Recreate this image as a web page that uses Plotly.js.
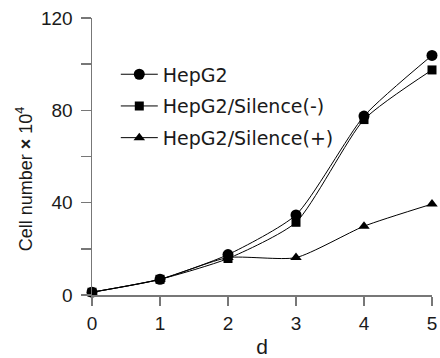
<!DOCTYPE html>
<html>
<head>
<meta charset="utf-8">
<script src="https://cdn.plot.ly/plotly-3.0.1.min.js"></script>
<style>html,body{margin:0;padding:0;background:#fff}#chart{width:440px;height:358px}</style>
</head>
<body>
<div id="chart"></div>
<script>
const days = [0, 1, 2, 3, 4, 5];
const hepg2 = [1.2, 6.8, 17.5, 34.7, 77.5, 103.8];
const silenceNeg = [1.2, 6.8, 15.8, 31.5, 76.0, 97.5];
const silencePos = [1.2, 6.8, 16.2, 16.2, 29.8, 39.4];
const seriesNames = ['HepG2', 'HepG2/Silence(-)', 'HepG2/Silence(+)'];
const xTicks = [0, 1, 2, 3, 4, 5];
const yTicks = [0, 40, 80, 120];
const yMinorTicks = [20, 60, 100];
const yTitle = 'Cell number <b>×</b> 10<sup>4</sup>';

const SANS = 'Liberation Sans, Arial, sans-serif';
const WIDE = 'DejaVu Sans, Verdana, sans-serif';
const TXT = '#1a1a1a';
const AX = '#777';
const symbols = ['circle', 'square', 'triangle-up'];
const sizes = [11, 9, 10];
const data = [hepg2, silenceNeg, silencePos].map((vals, i) => ({
  x: days, y: vals, name: seriesNames[i], type: 'scatter', mode: 'lines+markers',
  line: {color: '#000', width: 1, shape: 'spline', smoothing: 0.6},
  marker: {symbol: symbols[i], size: sizes[i], color: '#000'},
  cliponaxis: false, legendgroup: 'g' + i
}));

const layout = {
  width: 440, height: 358,
  margin: {l: 92, r: 8, t: 18, b: 63},
  paper_bgcolor: '#fff', plot_bgcolor: '#fff',
  font: {family: SANS, size: 19, color: TXT},
  showlegend: true,
  legend: {x: 0.07, y: 0.865, xanchor: 'left', yanchor: 'top', bgcolor: 'rgba(0,0,0,0)',
           font: {family: WIDE, size: 19, color: TXT}, tracegroupgap: 4, traceorder: 'grouped', itemwidth: 37},
  xaxis: {range: [0, 5], tickvals: xTicks, ticks: 'outside', ticklen: 9, tickcolor: AX, tickwidth: 1.5,
          showline: true, linecolor: AX, linewidth: 1.5, showgrid: false, zeroline: false, ticklabelstandoff: 2,
          title: {text: 'd', standoff: 6, font: {family: SANS, size: 21, color: TXT}},
          tickfont: {family: SANS, size: 19, color: TXT}},
  yaxis: {range: [0, 120], tickvals: yTicks, ticks: 'outside', ticklen: 10, tickcolor: AX, tickwidth: 1.5,
          showline: true, linecolor: AX, linewidth: 1.5, showgrid: false, zeroline: false, ticklabelstandoff: 4,
          minor: {tickvals: yMinorTicks, ticks: 'outside', ticklen: 10, tickcolor: AX, tickwidth: 1.5, showgrid: false},
          tickfont: {family: SANS, size: 19, color: TXT}},
  annotations: [{text: yTitle, textangle: -90, xref: 'paper', yref: 'paper', x: -0.198, y: 0.42,
                 xanchor: 'center', yanchor: 'middle', showarrow: false,
                 font: {family: SANS, size: 18, color: TXT}}]
};
Plotly.newPlot('chart', data, layout, {displayModeBar: false, staticPlot: true});
</script>
</body>
</html>
